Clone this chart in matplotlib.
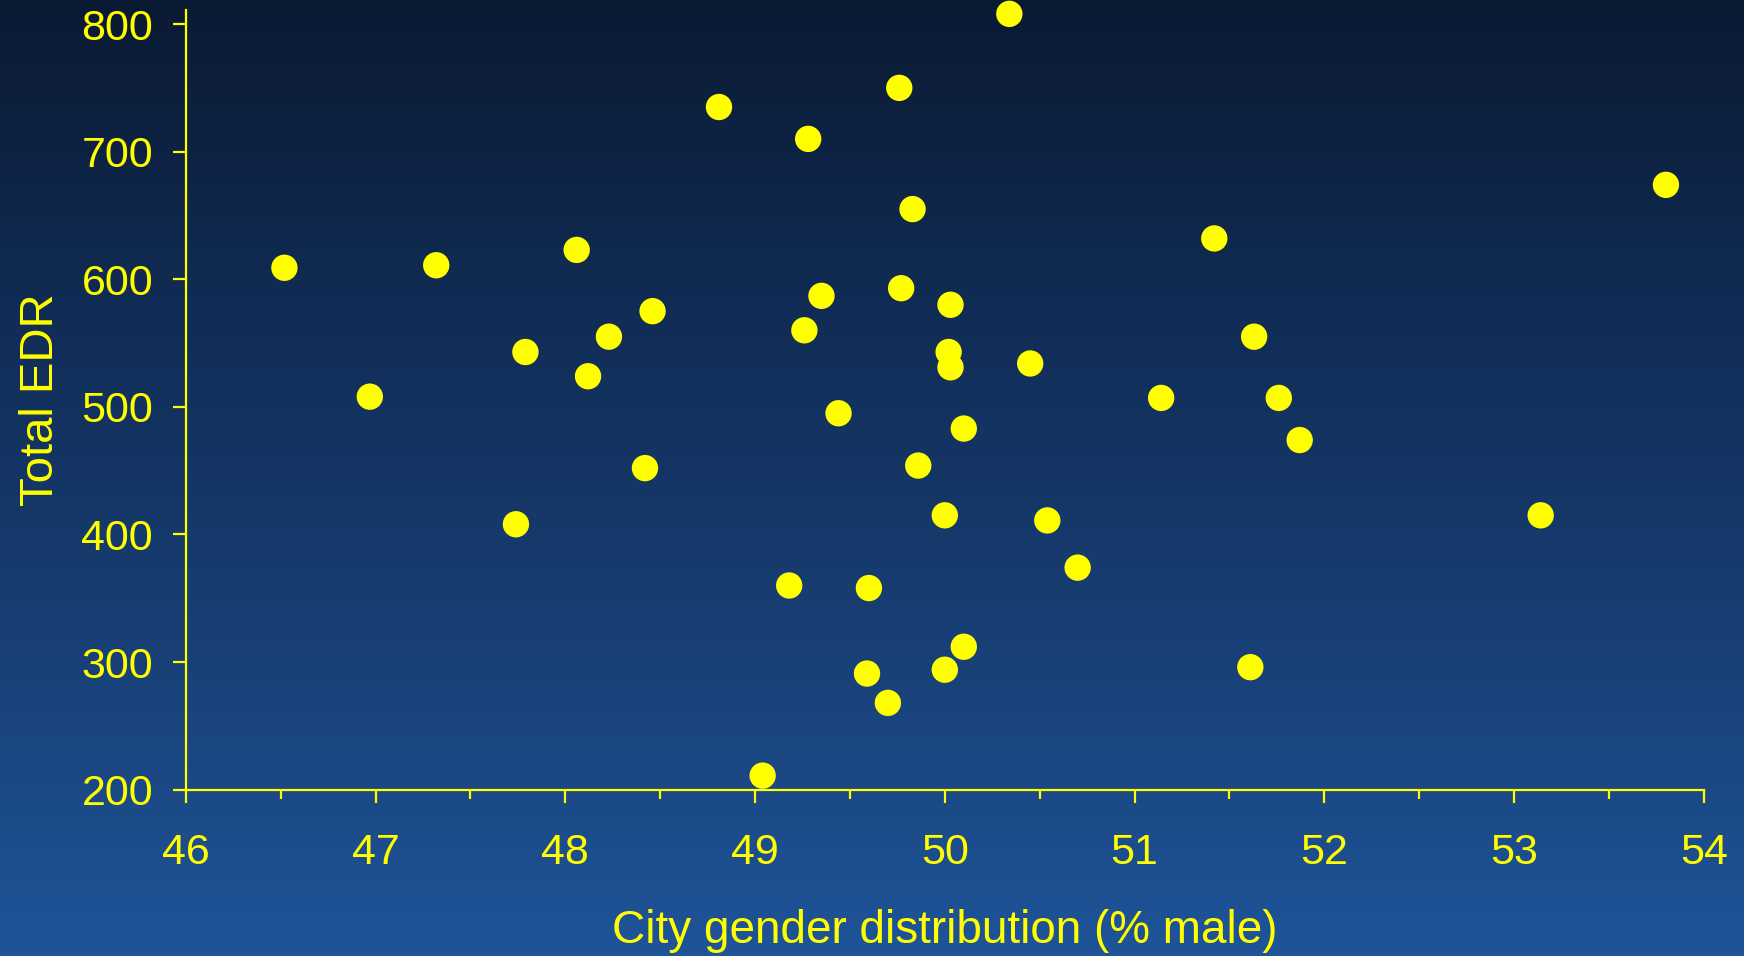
import matplotlib
matplotlib.use("Agg")
import matplotlib.pyplot as plt
import numpy as np
from matplotlib.colors import LinearSegmentedColormap
from matplotlib.ticker import MultipleLocator

# City gender distribution (% male) vs total EDR
pct_male = [46.52, 46.97, 47.32, 47.74, 47.79, 48.06, 48.12, 48.23, 48.46, 48.42,
            48.81, 49.04, 49.18, 49.26, 49.28, 49.35, 49.44, 49.59, 49.60, 49.70,
            49.76, 49.77, 49.83, 49.86, 50.00, 50.00, 50.02, 50.03, 50.03, 50.10,
            50.10, 50.34, 50.45, 50.54, 50.70, 51.14, 51.42, 51.61, 51.63, 51.76,
            51.87, 53.14, 53.80]
total_edr = [609, 508, 611, 408, 543, 623, 524, 555, 575, 452,
             735, 211, 360, 560, 710, 587, 495, 291, 358, 268,
             750, 593, 655, 454, 415, 294, 543, 580, 531, 483,
             312, 808, 534, 411, 374, 507, 632, 296, 555, 507,
             474, 415, 674]

yellow = "#ffff00"

fig = plt.figure(figsize=(17.44, 9.56), dpi=100)

# gradient background
bg = fig.add_axes([0, 0, 1, 1], zorder=-1)
cmap = LinearSegmentedColormap.from_list("bg", ["#0b1a33", "#112d56", "#183f75", "#1f5499"])
grad = np.linspace(0, 1, 256).reshape(-1, 1)
bg.imshow(grad, aspect="auto", cmap=cmap, extent=[0, 1, 1, 0])
bg.axis("off")

ax = fig.add_axes([0.1065, 0.174, 0.8705, 0.8155])
ax.patch.set_alpha(0)
ax.scatter(pct_male, total_edr, s=360, color=yellow, edgecolors="none",
           clip_on=False, zorder=3)

ax.set_xlim(46, 54)
ax.set_ylim(200, 811)
ax.xaxis.set_major_locator(MultipleLocator(1))
ax.xaxis.set_minor_locator(MultipleLocator(0.5))
ax.yaxis.set_major_locator(MultipleLocator(100))

for side in ["top", "right"]:
    ax.spines[side].set_visible(False)
for side in ["left", "bottom"]:
    ax.spines[side].set_color(yellow)
    ax.spines[side].set_linewidth(1.6)

ax.tick_params(axis="both", which="major", direction="out", colors=yellow,
               length=9.5, width=1.6, labelsize=31)
ax.tick_params(axis="x", which="minor", direction="out", colors=yellow,
               length=6.5, width=1.6)
ax.tick_params(axis="x", which="major", pad=22)
ax.tick_params(axis="y", which="major", pad=14)
for lbl in ax.get_xticklabels() + ax.get_yticklabels():
    lbl.set_fontfamily("Liberation Sans")

ax.set_xlabel("City gender distribution (% male)", color=yellow, fontsize=33,
              fontfamily="Liberation Sans")
ax.set_ylabel("Total EDR", color=yellow, fontsize=34, fontfamily="Liberation Sans")
ax.xaxis.set_label_coords(0.5, -0.153)
ax.yaxis.set_label_coords(-0.081, 0.5)

fig.savefig("out.png", dpi=100)
